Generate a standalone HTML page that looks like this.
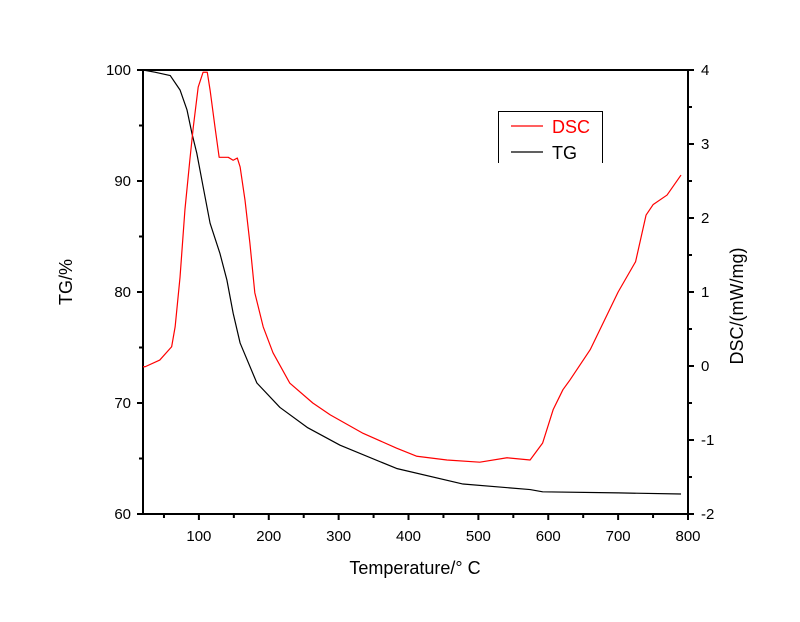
<!DOCTYPE html>
<html><head><meta charset="utf-8"><style>
body{margin:0;background:#fff;}
svg text{font-family:"Liberation Sans",Arial,sans-serif;}
</style></head><body>
<svg id="chart" width="800" height="617" viewBox="0 0 800 617">
<g id="axes"></g>
<g id="series"></g>
<g>
<path d="M498.5 163V111.5H602.5V163" fill="none" stroke="#000" stroke-width="1"/>
<line x1="511" y1="126" x2="543" y2="126" stroke="#f00" stroke-width="1.2"/>
<text x="552" y="133" font-size="18" fill="#f00">DSC</text>
<line x1="511" y1="152" x2="543" y2="152" stroke="#000" stroke-width="1.2"/>
<text x="552" y="159" font-size="18" fill="#000">TG</text>
</g>
<text x="415" y="574" font-size="18" text-anchor="middle">Temperature/° C</text>
<text transform="translate(72,282) rotate(-90)" font-size="18" text-anchor="middle">TG/%</text>
<text transform="translate(743,306) rotate(-90)" font-size="18" text-anchor="middle">DSC/(mW/mg)</text>
</svg>
<script>
const tgTemps=[20,37,59,73,83,90,97,106,116,130,140,149,159,183,216,255,302,383,478,574,592,700,790];
const tgValues=[100,99.8,99.5,98.2,96.4,94.3,92.5,89.5,86.2,83.5,81.1,78.1,75.4,71.8,69.6,67.8,66.2,64.1,62.7,62.2,62.0,61.9,61.8];
const dscTemps=[20,23,44,61,66,73,80,87,92,99,106,112,116,123,129,142,149,155,159,166,173,180,192,206,230,263,288,335,383,412,455,502,541,574,592,607,621,631,660,700,725,740,750,770,790];
const dscValues=[-0.01,-0.01,0.08,0.26,0.53,1.20,2.11,2.78,3.23,3.77,3.97,3.97,3.73,3.23,2.82,2.82,2.78,2.81,2.69,2.24,1.66,0.99,0.53,0.18,-0.23,-0.50,-0.66,-0.91,-1.11,-1.22,-1.27,-1.30,-1.24,-1.27,-1.04,-0.59,-0.32,-0.19,0.22,1.0,1.41,2.04,2.18,2.31,2.58];
const xTicks=[100,200,300,400,500,600,700,800];
const tgTicks=[60,70,80,90,100];
const dscTicks=[-2,-1,0,1,2,3,4];
const L=143,R=688,T=70,B=514;
const xs=t=>L+(t-20)/(800-20)*(R-L);
const yTG=v=>B-(v-60)/40*(B-T);
const yDSC=v=>B-(v+2)/6*(B-T);
const NS="http://www.w3.org/2000/svg";
const ax=document.getElementById('axes'),se=document.getElementById('series');
function mk(tag,attrs,parent){const e=document.createElementNS(NS,tag);for(const k in attrs)e.setAttribute(k,attrs[k]);parent.appendChild(e);return e;}
let frame=mk('rect',{x:L,y:T,width:R-L,height:B-T,fill:'none',stroke:'#000','stroke-width':2},ax);


xTicks.forEach(t=>{const x=xs(t);
 let l=mk('line',{x1:x,y1:B,x2:x,y2:B+6,stroke:'#000','stroke-width':2},ax);
 
 
 let m=mk('line',{x1:xs(t-50),y1:B,x2:xs(t-50),y2:B+4,stroke:'#000','stroke-width':2},ax);
 
 
 let tx=mk('text',{x:x,y:B+27,'font-size':15,'text-anchor':'middle'},ax);tx.textContent=t;
 
 
});
tgTicks.forEach(v=>{const y=yTG(v);
 let l=mk('line',{x1:L-6,y1:y,x2:L,y2:y,stroke:'#000','stroke-width':2},ax);
 
 
 if(v>60){let m=mk('line',{x1:L-4,y1:yTG(v-5),x2:L,y2:yTG(v-5),stroke:'#000','stroke-width':2},ax);
 
 }
 let tx=mk('text',{x:L-12,y:y+5,'font-size':15,'text-anchor':'end'},ax);tx.textContent=v;
 
 
});
dscTicks.forEach(v=>{const y=yDSC(v);
 let l=mk('line',{x1:R,y1:y,x2:R+6,y2:y,stroke:'#000','stroke-width':2},ax);
 
 
 if(v>-2){let m=mk('line',{x1:R,y1:yDSC(v-0.5),x2:R+4,y2:yDSC(v-0.5),stroke:'#000','stroke-width':2},ax);
 
 }
 let tx=mk('text',{x:R+13,y:y+5,'font-size':15,'text-anchor':'start'},ax);tx.textContent=v;
 
 
});
let tg=mk('polyline',{points:tgTemps.map((t,i)=>xs(t)+','+yTG(tgValues[i])).join(' '),fill:'none',stroke:'#000','stroke-width':1.2,'stroke-linejoin':'round'},se);


let dsc=mk('polyline',{points:dscTemps.map((t,i)=>xs(t)+','+yDSC(dscValues[i])).join(' '),fill:'none',stroke:'#f00','stroke-width':1.2,'stroke-linejoin':'round'},se);


</script>
</body></html>
